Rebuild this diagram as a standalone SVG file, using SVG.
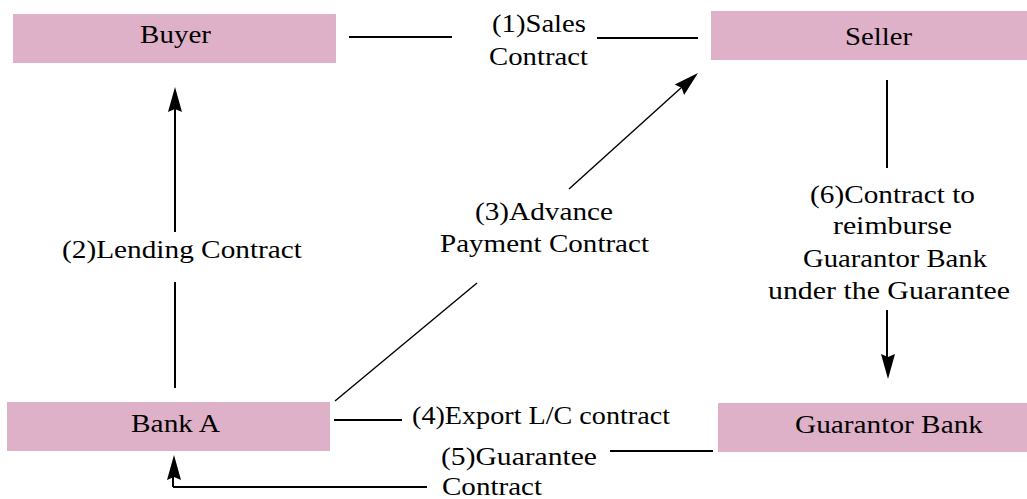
<svg xmlns="http://www.w3.org/2000/svg" width="1027" height="499" viewBox="0 0 1027 499">
  <style>
    .box { fill: #dfb1c9; }
    .ln { stroke: #000; stroke-width: 2; fill: none; }
    .thin { stroke: #000; stroke-width: 1.4; fill: none; }
    .head { fill: #000; }
    text { fill: #000; }
  </style>
  <defs>
    <!-- slender arrowhead, tip at origin, pointing along +x -->
    <path id="ah" d="M0,0 L-25,-7 L-22,0 L-25,7 Z"/>
  </defs>

  <rect width="1027" height="499" fill="#fff"/>

  <g id="buyer">
    <rect class="box" x="13" y="14" width="323" height="49"/>
    <text x="140" y="43" font-size="24.5" font-family="Liberation Serif, serif" textLength="71" lengthAdjust="spacingAndGlyphs">Buyer</text>
  </g>
  <g id="seller">
    <rect class="box" x="711" y="11" width="316" height="49"/>
    <text x="845" y="45" font-size="24.5" font-family="Liberation Serif, serif" textLength="67" lengthAdjust="spacingAndGlyphs">Seller</text>
  </g>
  <g id="bank-a">
    <rect class="box" x="7" y="402" width="323" height="49"/>
    <text x="131" y="432" font-size="24.5" font-family="Liberation Serif, serif" textLength="89" lengthAdjust="spacingAndGlyphs">Bank A</text>
  </g>
  <g id="guarantor-bank">
    <rect class="box" x="718" y="403" width="309" height="49"/>
    <text x="795" y="433" font-size="24.5" font-family="Liberation Serif, serif" textLength="188" lengthAdjust="spacingAndGlyphs">Guarantor Bank</text>
  </g>

  <g id="connectors">
    <!-- (1) Buyer - Seller -->
    <line class="ln" x1="349" y1="37" x2="452" y2="37"/>
    <line class="ln" x1="597" y1="38" x2="698" y2="38"/>
    <text x="492" y="32" font-size="24.5" font-family="Liberation Serif, serif" textLength="94" lengthAdjust="spacingAndGlyphs">(1)Sales</text>
    <text x="489" y="65" font-size="24.5" font-family="Liberation Serif, serif" textLength="99" lengthAdjust="spacingAndGlyphs">Contract</text>

    <!-- (2) Bank A -> Buyer -->
    <line class="ln" x1="175" y1="232" x2="175" y2="108"/>
    <line class="ln" x1="175" y1="282" x2="175" y2="388"/>
    <use href="#ah" class="head" transform="translate(175,87) rotate(-90)"/>
    <text x="62" y="258" font-size="24.5" font-family="Liberation Serif, serif" textLength="240" lengthAdjust="spacingAndGlyphs">(2)Lending Contract</text>

    <!-- (3) Bank A -> Seller -->
    <line class="thin" x1="335" y1="401" x2="477" y2="283"/>
    <line class="thin" x1="569" y1="189" x2="682" y2="87"/>
    <use href="#ah" class="head" transform="translate(698,73) rotate(-41.9)"/>
    <text x="475" y="220" font-size="24.5" font-family="Liberation Serif, serif" textLength="138" lengthAdjust="spacingAndGlyphs">(3)Advance</text>
    <text x="440" y="252" font-size="24.5" font-family="Liberation Serif, serif" textLength="209" lengthAdjust="spacingAndGlyphs">Payment Contract</text>

    <!-- (4) Bank A - export L/C -->
    <line class="ln" x1="334" y1="420" x2="402" y2="420"/>
    <text x="412" y="424" font-size="24.5" font-family="Liberation Serif, serif" textLength="258" lengthAdjust="spacingAndGlyphs">(4)Export L/C contract</text>

    <!-- (5) Guarantor Bank -> Bank A -->
    <line class="ln" x1="610" y1="451" x2="713" y2="451"/>
    <line class="ln" x1="427" y1="487" x2="173" y2="487"/>
    <line class="ln" x1="173" y1="487" x2="173" y2="474"/>
    <use href="#ah" class="head" transform="translate(174,455) rotate(-90)"/>
    <text x="441" y="465" font-size="24.5" font-family="Liberation Serif, serif" textLength="156" lengthAdjust="spacingAndGlyphs">(5)Guarantee</text>
    <text x="442" y="495" font-size="24.5" font-family="Liberation Serif, serif" textLength="100" lengthAdjust="spacingAndGlyphs">Contract</text>

    <!-- (6) Seller -> Guarantor Bank -->
    <line class="ln" x1="887" y1="80" x2="887" y2="168"/>
    <line class="ln" x1="887" y1="310" x2="887" y2="358"/>
    <use href="#ah" class="head" transform="translate(888,379) rotate(90)"/>
    <text x="810" y="203" font-size="24.5" font-family="Liberation Serif, serif" textLength="165" lengthAdjust="spacingAndGlyphs">(6)Contract to</text>
    <text x="833" y="234" font-size="24.5" font-family="Liberation Serif, serif" textLength="119" lengthAdjust="spacingAndGlyphs">reimburse</text>
    <text x="803" y="267" font-size="24.5" font-family="Liberation Serif, serif" textLength="184" lengthAdjust="spacingAndGlyphs">Guarantor Bank</text>
    <text x="768" y="299" font-size="24.5" font-family="Liberation Serif, serif" textLength="242" lengthAdjust="spacingAndGlyphs">under the Guarantee</text>
  </g>
</svg>
